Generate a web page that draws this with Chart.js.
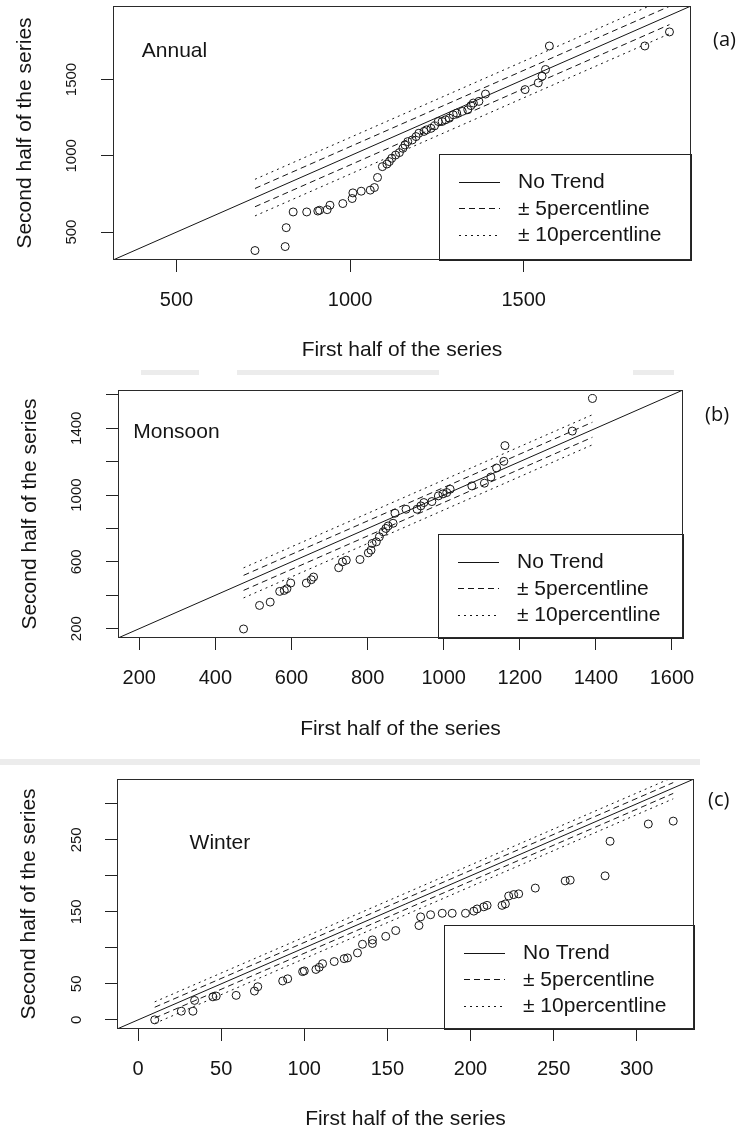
<!DOCTYPE html>
<html><head><meta charset="utf-8">
<script src="https://cdn.jsdelivr.net/npm/chart.js@4.4.0/dist/chart.umd.min.js"></script>
<style>
html,body{margin:0;padding:0;background:#fff}
body{width:747px;height:1135px;position:relative;overflow:hidden;font-family:"Liberation Sans",Arial,sans-serif}
canvas{position:absolute;left:0}
.pl{position:absolute;font-family:"Open Sans","Noto Sans",sans-serif;font-size:20px;line-height:20px;color:#111}
.band{position:absolute;background:#ececec}
</style></head><body>
<div class="band" style="left:141px;top:370px;width:58px;height:5px"></div>
<div class="band" style="left:237px;top:370px;width:202px;height:5px"></div>
<div class="band" style="left:633px;top:370px;width:41px;height:5px"></div>
<div class="band" style="left:0px;top:759px;width:700px;height:6px"></div>
<canvas id="ca" width="747" height="370" style="top:0px"></canvas>
<canvas id="cb" width="747" height="390" style="top:370px"></canvas>
<canvas id="cc" width="747" height="375" style="top:760px"></canvas>
<div class="pl" style="left:713px;top:29px">(a)</div>
<div class="pl" style="left:705px;top:404px">(b)</div>
<div class="pl" style="left:708px;top:789px">(c)</div>
<script>
// ---------- data ----------
const annualFirstHalf  = [726,813,816,836,875,907,912,934,942,979,1006,1008,1032,1058,1070,1079,1093,1106,1113,1120,1131,1142,1152,1158,1166,1179,1190,1198,1213,1220,1233,1243,1254,1265,1275,1286,1297,1307,1323,1339,1348,1355,1371,1390,1504,1542,1553,1563,1574,1849,1920];
const annualSecondHalf = [379,405,529,632,632,638,643,647,676,687,720,757,768,775,792,858,929,946,962,984,1005,1021,1049,1071,1093,1104,1126,1148,1160,1170,1180,1196,1225,1225,1236,1247,1269,1280,1291,1302,1329,1346,1357,1405,1434,1478,1522,1566,1720,1720,1812];

const monsoonFirstHalf  = [474,516,544,569,581,588,598,639,652,658,724,734,744,780,802,809,812,823,831,841,848,854,867,872,901,930,940,948,969,986,998,1008,1017,1074,1107,1124,1139,1158,1161,1338,1391];
const monsoonSecondHalf = [198,339,359,423,429,439,473,473,493,509,565,600,610,614,654,670,710,720,750,780,800,815,831,891,915,915,935,955,961,995,1007,1015,1035,1055,1071,1108,1162,1202,1296,1383,1578];

const winterFirstHalf  = [10,26,33,34,45,47,59,70,72,87,90,99,100,107,109,111,118,124,126,132,135,141,141,149,155,169,170,176,183,189,197,202,204,208,210,219,221,223,226,229,239,257,260,281,284,307,322];
const winterSecondHalf = [0,12,12,27,32,33,34,40,46,54,57,67,68,70,73,78,81,85,86,93,105,106,111,116,124,131,143,146,148,148,148,151,154,157,159,159,161,172,174,175,183,193,194,200,248,272,276];

// tick values and which of them carry a label
const annualTicks = [500,1000,1500];
const annualXLabels = [500,1000,1500];
const annualYLabels = [500,1000,1500];
const monsoonTicks = [200,400,600,800,1000,1200,1400,1600];
const monsoonXLabels = [200,400,600,800,1000,1200,1400,1600];
const monsoonYLabels = [200,600,1000,1400];
const winterTicks = [0,50,100,150,200,250,300];
const winterXLabels = [0,50,100,150,200,250,300];
const winterYLabels = [0,50,150,250];

// axis limits (same on both axes) and band offsets (5 %, 10 %)
const annualLimits = [317,1982];
const monsoonLimits = [144,1629];
const winterLimits = [-12.7,334.5];
const annualBand = [60,120];
const monsoonBand = [45,90];
const winterBand = [7.5,15];

const legendLabels = ['No Trend','\u00B1 5percentline','\u00B1 10percentline'];
const xTitle = 'First half of the series';
const yTitle = 'Second half of the series';

// ---------- drawing ----------
const INK = '#151515';
const FONT = '"Liberation Sans", Arial, sans-serif';

const rDecor = {
  id: 'rDecor',
  afterDatasetsDraw(chart, args, o) {
    const {ctx, chartArea: a} = chart;
    ctx.save();
    ctx.strokeStyle = '#222';
    ctx.lineWidth = 1;
    const lx = Math.round(a.right - o.legendWidth), ly = Math.round(a.bottom - o.legendHeight);
    ctx.fillStyle = '#fff';
    ctx.fillRect(lx, ly, o.legendWidth, o.legendHeight);
    ctx.strokeRect(lx + 0.5, ly + 0.5, Math.round(a.right) - lx, Math.round(a.bottom) - ly);
    const rows = [27.5, 54.3, 80.5];
    [1, 2, 4].forEach((di, i) => {
      const ds = chart.data.datasets[di];
      const y = Math.round(ly + rows[i]) + 0.5;
      ctx.strokeStyle = INK;
      ctx.setLineDash(ds.borderDash || []);
      ctx.beginPath(); ctx.moveTo(lx + 20, y); ctx.lineTo(lx + 61, y); ctx.stroke();
      ctx.setLineDash([]);
      ctx.fillStyle = INK;
      ctx.font = '21px ' + FONT;
      ctx.textAlign = 'left'; ctx.textBaseline = 'middle';
      ctx.fillText(ds.label, lx + 79, ly + rows[i] + 1);
    });
    ctx.strokeStyle = '#2a2a2a';
    ctx.strokeRect(Math.round(a.left) + 0.5, Math.round(a.top) + 0.5, Math.round(a.right - a.left) - 1, Math.round(a.bottom - a.top) - 1);
    ctx.fillStyle = INK;
    ctx.font = '21px ' + FONT;
    ctx.textAlign = 'left'; ctx.textBaseline = 'middle';
    ctx.fillText(o.name, chart.scales.x.getPixelForValue(o.nameX), chart.scales.y.getPixelForValue(o.nameY));
    ctx.restore();
  }
};

function buildDatasets(xs, ys, band, lim) {
  const pts = xs.map((x, i) => ({x: x, y: ys[i]}));
  const x0 = Math.min(...xs), x1 = Math.max(...xs);
  const ref = d => [{x: x0, y: x0 + d}, {x: x1, y: x1 + d}];
  const lineDs = (label, data, dash) => ({label, data, showLine: true, pointRadius: 0, pointHoverRadius: 0,
    borderColor: INK, borderWidth: 1, borderDash: dash, fill: false});
  return [
    {label: 'points', data: pts, showLine: false, pointRadius: 4, pointHoverRadius: 4, pointBorderWidth: 1,
     borderColor: INK, pointBorderColor: INK, backgroundColor: 'rgba(0,0,0,0)', pointBackgroundColor: 'rgba(0,0,0,0)'},
    lineDs(legendLabels[0], [{x: lim[0], y: lim[0]}, {x: lim[1], y: lim[1]}], []),
    lineDs(legendLabels[1], ref(band[0]), [6, 4]),
    lineDs('', ref(-band[0]), [6, 4]),
    lineDs(legendLabels[2], ref(band[1]), [2, 4]),
    lineDs('', ref(-band[1]), [2, 4])
  ];
}

function makeChart(c) {
  const gridOpts = {display: true, drawOnChartArea: false, drawTicks: true, tickLength: 12, color: '#222', lineWidth: 1};
  return new Chart(document.getElementById(c.id), {
    type: 'scatter',
    data: {datasets: buildDatasets(c.xs, c.ys, c.band, c.lim)},
    options: {
      responsive: false, animation: false, devicePixelRatio: 1,
      events: [],
      layout: {padding: {left: 0, top: c.top, right: 747 - c.right, bottom: 0}},
      plugins: {
        legend: {display: false}, tooltip: {enabled: false},
        rDecor: {legendWidth: c.lw, legendHeight: c.lh, name: c.name, nameX: c.nameX, nameY: c.nameY}
      },
      scales: {
        x: {
          type: 'linear', position: 'bottom', min: c.lim[0], max: c.lim[1],
          afterBuildTicks: s => { s.ticks = c.ticks.map(v => ({value: v})); },
          afterFit: s => { s.height = c.H - c.bottom; s.paddingLeft = 0; s.paddingRight = 0; s.paddingTop = 0; s.paddingBottom = 0; },
          grid: gridOpts, border: {display: false},
          ticks: {autoSkip: false, maxRotation: 0, minRotation: 0, padding: 16, color: INK,
                  font: {family: FONT, size: 20},
                  callback: v => c.xLabels.includes(v) ? String(v) : ''},
          title: {display: true, text: xTitle, color: INK, font: {family: FONT, size: 21},
                  padding: {top: 0, bottom: c.xtPad}}
        },
        y: {
          type: 'linear', position: 'left', min: c.lim[0], max: c.lim[1],
          afterBuildTicks: s => { s.ticks = c.ticks.map(v => ({value: v})); },
          afterFit: s => { s.width = c.left; s.paddingTop = 0; s.paddingBottom = 0; s.paddingLeft = 0; s.paddingRight = 0; },
          grid: gridOpts, border: {display: false},
          ticks: {autoSkip: false, minRotation: 90, maxRotation: 90, crossAlign: 'center', padding: c.yPad, color: INK,
                  font: {family: FONT, size: 15},
                  callback: v => c.yLabels.includes(v) ? String(v) : ''},
          title: {display: true, text: yTitle, color: INK, font: {family: FONT, size: 21},
                  padding: {top: c.ytPad, bottom: 0}}
        }
      }
    },
    plugins: [rDecor]
  });
}

makeChart({id: 'ca', H: 370, top: 6, bottom: 260, left: 113, right: 691,
  xs: annualFirstHalf, ys: annualSecondHalf, band: annualBand, lim: annualLimits,
  ticks: annualTicks, xLabels: annualXLabels, yLabels: annualYLabels,
  xtPad: 7, ytPad: 13, yPad: 12, lw: 252, lh: 106, name: 'Annual', nameX: 400, nameY: 1683});

makeChart({id: 'cb', H: 390, top: 20, bottom: 268, left: 118, right: 683,
  xs: monsoonFirstHalf, ys: monsoonSecondHalf, band: monsoonBand, lim: monsoonLimits,
  ticks: monsoonTicks, xLabels: monsoonXLabels, yLabels: monsoonYLabels,
  xtPad: 18, ytPad: 18, yPad: 12, lw: 245, lh: 104, name: 'Monsoon', nameX: 184, nameY: 1379});

makeChart({id: 'cc', H: 375, top: 19, bottom: 269, left: 117, right: 694,
  xs: winterFirstHalf, ys: winterSecondHalf, band: winterBand, lim: winterLimits,
  ticks: winterTicks, xLabels: winterXLabels, yLabels: winterYLabels,
  xtPad: 3, ytPad: 17, yPad: 16, lw: 250, lh: 104, name: 'Winter', nameX: 31, nameY: 245});
</script>
</body></html>
